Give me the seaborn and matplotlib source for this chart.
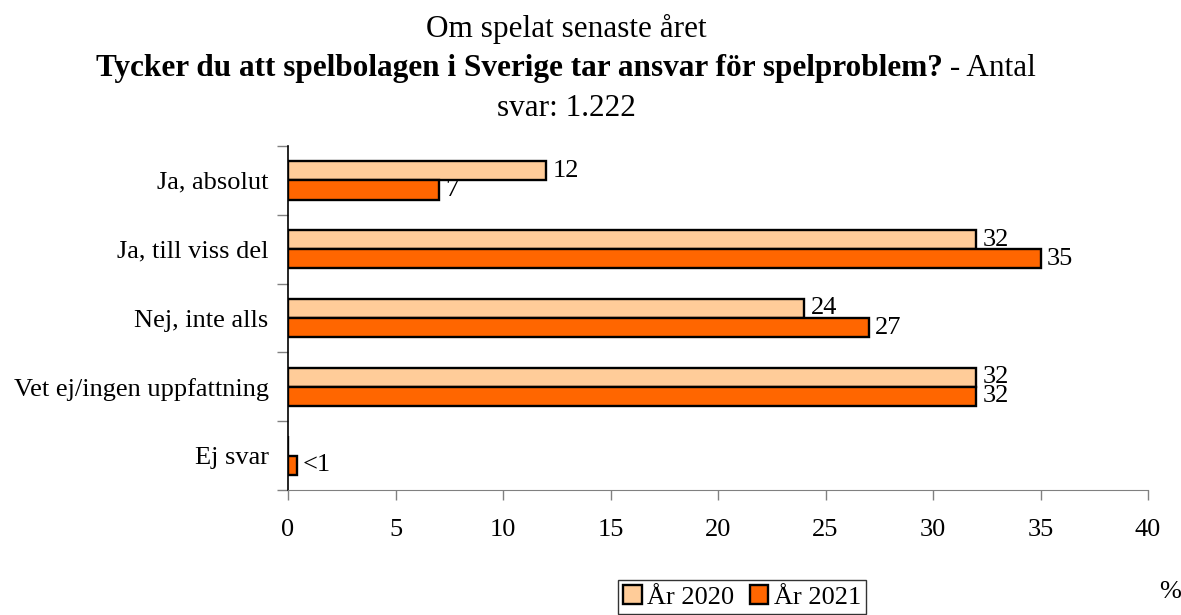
import pandas as pd
import matplotlib.pyplot as plt
import seaborn as sns
from matplotlib.patches import Patch

# Data
categories = ["Ja, absolut", "Ja, till viss del", "Nej, inte alls",
              "Vet ej/ingen uppfattning", "Ej svar"]
years = ["År 2020", "År 2021"]
values_2020 = [12, 32, 24, 32, 0]
values_2021 = [7, 35, 27, 32, 0.4]
labels_2020 = ["12", "32", "24", "32", ""]
labels_2021 = ["7", "35", "27", "32", "<1"]
colors = {"År 2020": "#FFCC99", "År 2021": "#FF6600"}

df = pd.DataFrame({
    "Kategori": categories * 2,
    "År": [years[0]] * len(categories) + [years[1]] * len(categories),
    "Procent": values_2020 + values_2021,
})

sns.set_style("white")
plt.rcParams['font.family'] = ['Liberation Serif', 'DejaVu Serif']
plt.rcParams['text.color'] = 'black'
plt.rcParams['xtick.color'] = 'black'
plt.rcParams['ytick.color'] = 'black'
FS = 19
TFS = 22.5

fig = plt.figure(figsize=(11.81, 6.15), dpi=100)
ax = fig.add_axes([288 / 1181, 1 - 490 / 615, (1148 - 288) / 1181, (490 - 146) / 615])

sns.barplot(data=df, y="Kategori", x="Procent", hue="År", order=categories,
            hue_order=years, palette=colors, orient="h", width=0.56,
            edgecolor="black", linewidth=1.7, ax=ax, legend=False, saturation=1)

# value labels
for container, labs in zip(ax.containers, [labels_2020, labels_2021]):
    for bar, lab in zip(container, labs):
        if not lab:
            continue
        y = bar.get_y() + bar.get_height() / 2
        ax.text(bar.get_width() + 0.3, y, lab, va="center", ha="left", fontsize=FS)

ax.set_xlim(0, 40)
ax.set_ylim(len(categories) - 0.5, -0.5)
ax.set_xticks(range(0, 41, 5))
ax.set_xlabel("")
ax.set_ylabel("")
ax.tick_params(axis="x", bottom=True, length=7, width=1, color="#808080",
               labelcolor="black", pad=14, labelsize=FS)
ax.tick_params(axis="y", which="major", left=False, length=0, pad=14,
               labelcolor="black", labelsize=FS)
ax.set_yticks([i - 0.5 for i in range(len(categories) + 1)], minor=True)
ax.tick_params(axis="y", which="minor", left=True, length=8, width=1, color="#808080")
for s in ["top", "right"]:
    ax.spines[s].set_visible(False)
ax.spines["bottom"].set_color("#808080")
ax.spines["left"].set_color("black")
ax.spines["left"].set_linewidth(1.2)
ax.grid(False)

fig.text(1170 / 1181, 1 - 592 / 615, "%", ha="center", va="center", fontsize=FS)

# Title (three lines, the middle one partly bold)
cx = 566
fig.text(cx / 1181, 1 - 37 / 615, "Om spelat senaste året", ha="center", va="baseline", fontsize=TFS)
t1 = fig.text(0, 1 - 76 / 615, "Tycker du att spelbolagen i Sverige tar ansvar för spelproblem?",
              ha="left", va="baseline", fontsize=TFS, fontweight="bold")
t2 = fig.text(0, 1 - 76 / 615, " - Antal", ha="left", va="baseline", fontsize=TFS)
fig.canvas.draw()
w1 = t1.get_window_extent().width
w2 = t2.get_window_extent().width
x0 = cx - (w1 + w2) / 2
t1.set_x(x0 / fig.bbox.width)
t2.set_x((x0 + w1) / fig.bbox.width)
fig.text(cx / 1181, 1 - 116 / 615, "svar: 1.222", ha="center", va="baseline", fontsize=TFS)

# Legend
handles = [Patch(facecolor=colors[y], edgecolor="black", linewidth=1.7, label=y) for y in years]
fig.legend(handles=handles, loc="center", bbox_to_anchor=(742 / 1181, 1 - 597 / 615), ncol=2,
           fontsize=FS, frameon=True, fancybox=False, edgecolor="black", handlelength=0.7,
           handleheight=0.7, handletextpad=0.2, columnspacing=0.6, borderpad=0.2,
           borderaxespad=0)

fig.savefig("out.png", dpi=100)
